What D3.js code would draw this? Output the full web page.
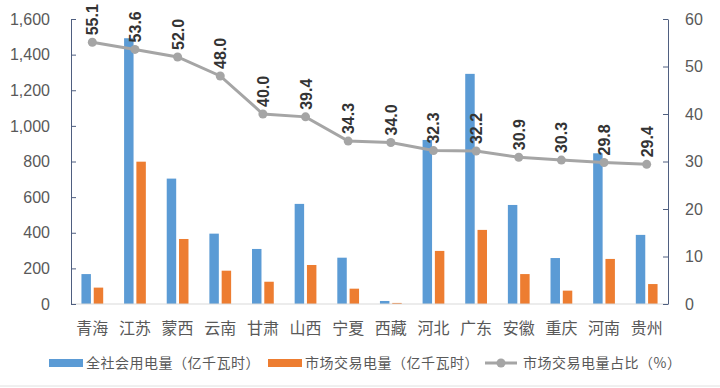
<!DOCTYPE html>
<html>
<head>
<meta charset="utf-8">
<script src="https://cdn.jsdelivr.net/npm/d3@7"></script>
<style>
  body { margin: 0; background: #fff; }
  text { font-family: "Microsoft YaHei", "Noto Sans CJK SC", "Noto Sans", sans-serif; }
</style>
</head>
<body>
<div id="chart"></div>
<script>
// Width and height
var w = 720, h = 388;

// Chart data
var provinces = ["青海", "江苏", "蒙西", "云南", "甘肃", "山西", "宁夏", "西藏", "河北", "广东", "安徽", "重庆", "河南", "贵州"];
var totalUse = [168, 1492, 704, 395, 309, 562, 260, 17, 921, 1292, 556, 258, 846, 388];
var marketTrade = [92, 799, 365, 187, 125, 219, 86, 6, 298, 416, 168, 75, 253, 112];
var tradeShare = [55.1, 53.6, 52.0, 48.0, 40.0, 39.4, 34.3, 34.0, 32.3, 32.2, 30.9, 30.3, 29.8, 29.4];
var leftTicks = [0, 200, 400, 600, 800, 1000, 1200, 1400, 1600];
var rightTicks = [0, 10, 20, 30, 40, 50, 60];
var seriesNames = ["全社会用电量（亿千瓦时）", "市场交易电量（亿千瓦时）", "市场交易电量占比（%）"];

var blue = "#5b9bd5", orange = "#ed7d31", grey = "#a5a5a5";
var axisColor = "#4f5f80", labelColor = "#595959";
var numFont = "'Liberation Sans', Arial, sans-serif";

var svg = d3.select("#chart").append("svg")
    .attr("width", w).attr("height", h);

var plotLeft = 71, plotRight = 668, plotTop = 19, plotBottom = 304;

// Scales
var x = d3.scaleBand().domain(provinces).range([plotLeft, plotRight]);
var x1 = d3.scaleBand().domain(["a", "b"]).range([0, x.bandwidth()])
    .paddingInner(0.23).paddingOuter(0.85);
var y = d3.scaleLinear().domain([0, 1600]).range([plotBottom, plotTop]);
var y2 = d3.scaleLinear().domain([0, 60]).range([plotBottom, plotTop]);

// Bars
var rows = provinces.map(function(p, i) {
    return {name: p, total: totalUse[i], trade: marketTrade[i], share: tradeShare[i]};
});

svg.append("g").selectAll("rect")
    .data(rows).enter().append("rect")
    .attr("x", function(d) { return x(d.name) + x1("a"); })
    .attr("y", function(d) { return y(d.total); })
    .attr("width", x1.bandwidth())
    .attr("height", function(d) { return plotBottom - y(d.total); })
    .attr("fill", blue);

svg.append("g").selectAll("rect")
    .data(rows).enter().append("rect")
    .attr("x", function(d) { return x(d.name) + x1("b"); })
    .attr("y", function(d) { return y(d.trade); })
    .attr("width", x1.bandwidth())
    .attr("height", function(d) { return plotBottom - y(d.trade); })
    .attr("fill", orange);

// Baseline
svg.append("line")
    .attr("x1", plotLeft).attr("x2", plotRight)
    .attr("y1", plotBottom).attr("y2", plotBottom)
    .attr("stroke", "#d9d9d9").attr("stroke-width", 1);

// Left axis
var yAxis = svg.append("g")
    .attr("transform", "translate(" + plotLeft + ",0)")
    .call(d3.axisLeft(y).tickValues(leftTicks).tickFormat(d3.format(","))
        .tickSizeInner(-5).tickSizeOuter(0).tickPadding(21));

// Right axis
var y2Axis = svg.append("g")
    .attr("transform", "translate(" + plotRight + ",0)")
    .call(d3.axisRight(y2).tickValues(rightTicks)
        .tickSizeInner(-5).tickSizeOuter(0).tickPadding(17));

[yAxis, y2Axis].forEach(function(g) {
    g.select(".domain").attr("stroke", axisColor);
    g.selectAll(".tick line").attr("stroke", axisColor);
    g.selectAll(".tick text")
        .attr("fill", labelColor)
        .style("font-size", "16px")
        .style("font-family", numFont);
});

// Category labels
svg.append("g").selectAll("text")
    .data(provinces).enter().append("text")
    .attr("x", function(d) { return x(d) + x.bandwidth() / 2; })
    .attr("y", 334)
    .attr("text-anchor", "middle")
    .attr("fill", labelColor)
    .style("font-size", "16px")
    .text(function(d) { return d; });

// Share line
var line = d3.line()
    .x(function(d) { return x(d.name) + x.bandwidth() / 2; })
    .y(function(d) { return y2(d.share); });

svg.append("path")
    .datum(rows)
    .attr("d", line)
    .attr("fill", "none")
    .attr("stroke", grey)
    .attr("stroke-width", 3);

svg.append("g").selectAll("circle")
    .data(rows).enter().append("circle")
    .attr("cx", function(d) { return x(d.name) + x.bandwidth() / 2; })
    .attr("cy", function(d) { return y2(d.share); })
    .attr("r", 4.5)
    .attr("fill", grey);

// Value labels, rotated
svg.append("g").selectAll("text")
    .data(rows).enter().append("text")
    .attr("transform", function(d) {
        var cx = x(d.name) + x.bandwidth() / 2 + 6;
        var cy = y2(d.share) - 7;
        return "translate(" + cx + "," + cy + ") rotate(-90)";
    })
    .attr("text-anchor", "start")
    .attr("fill", "#333")
    .style("font-size", "16px")
    .style("font-weight", "bold")
    .style("font-family", numFont)
    .text(function(d) { return d.share.toFixed(1); });

// Legend
var legend = svg.append("g");
legend.append("rect").attr("x", 49).attr("y", 359).attr("width", 34).attr("height", 8).attr("fill", blue);
legend.append("text").attr("x", 86).attr("y", 368).attr("fill", labelColor)
    .style("font-size", "14px").style("letter-spacing", "0.5px").text(seriesNames[0]);
legend.append("rect").attr("x", 268).attr("y", 359).attr("width", 34).attr("height", 8).attr("fill", orange);
legend.append("text").attr("x", 305).attr("y", 368).attr("fill", labelColor)
    .style("font-size", "14px").style("letter-spacing", "0.5px").text(seriesNames[1]);
legend.append("line").attr("x1", 485).attr("x2", 517).attr("y1", 363).attr("y2", 363)
    .attr("stroke", grey).attr("stroke-width", 3);
legend.append("circle").attr("cx", 501).attr("cy", 363).attr("r", 4.5).attr("fill", grey);
legend.append("text").attr("x", 523).attr("y", 368).attr("fill", labelColor)
    .style("font-size", "14px").style("letter-spacing", "0.5px").text(seriesNames[2]);

// Frame line at the bottom
svg.append("line")
    .attr("x1", 0).attr("x2", w).attr("y1", 386).attr("y2", 386)
    .attr("stroke", "#e0e0e0");
</script>
</body>
</html>
